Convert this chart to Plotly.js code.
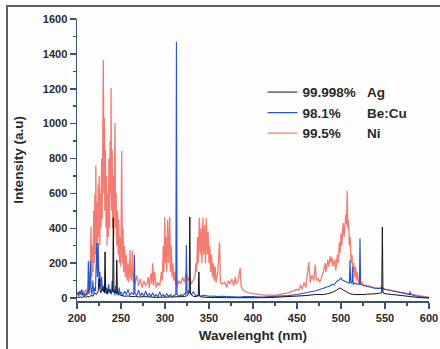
<!DOCTYPE html>
<html>
<head>
<meta charset="utf-8">
<script src="https://cdn.plot.ly/plotly-3.0.1.min.js"></script>
<style>
  html, body { margin: 0; padding: 0; width: 440px; height: 349px; overflow: hidden; background: #fdfdfd; }
  #chart { position: absolute; left: 0; top: 0; width: 440px; height: 349px; }
  #frame { position: absolute; left: 6px; top: 5px; width: 600px; height: 600px; border: 2px solid #5e5e5e; pointer-events: none; }
</style>
</head>
<body>
<div id="chart"></div>
<div id="frame"></div>
<script>
// ---- data ----
const seriesNames = ["99.998%\u00A0\u00A0\u00A0Ag", "98.1%\u00A0\u00A0\u00A0\u00A0\u00A0\u00A0\u00A0Be:Cu", "99.5%\u00A0\u00A0\u00A0\u00A0\u00A0\u00A0\u00A0Ni"];

const agX = [200, 202, 204, 206, 208, 210, 212, 214, 216, 218,
             220, 222, 224, 225, 226, 227, 229, 231.2, 231.9, 232.6,
             234, 236, 238, 240.6, 241.3, 242, 244.5, 245.2, 245.9, 248,
             250, 254, 258, 262, 266, 270, 275, 280, 285, 290,
             295, 300, 305, 310, 315, 320, 325, 327.5, 328.2, 328.9,
             332, 336, 337.8, 338.5, 339.2, 342, 346, 350, 360, 370,
             380, 390, 400, 410, 420, 430, 440, 450, 460, 470,
             480, 485, 490, 495, 499, 503, 507, 510, 515, 520,
             525, 530, 535, 540, 544, 546.3, 547, 547.7, 550, 555,
             560, 565, 570, 575, 580, 585, 590, 595, 600];
const agY = [5, 3, 6, 4, 8, 5, 10, 6, 15, 10,
             30, 20, 40, 110, 50, 30, 60, 30, 265, 40,
             25, 50, 30, 40, 460, 40, 30, 218, 35, 20,
             15, 10, 12, 8, 10, 6, 8, 5, 6, 4,
             5, 4, 5, 4, 6, 8, 12, 30, 465, 25,
             10, 8, 15, 150, 12, 6, 4, 3, 3, 2,
             2, 1, 1, 2, 3, 5, 8, 10, 14, 20,
             20, 25, 32, 45, 58, 45, 32, 25, 20, 18,
             20, 22, 22, 25, 28, 30, 407, 30, 25, 22,
             20, 15, 12, 8, 5, 3, 2, 1, 0];

const becuX = [200, 201, 202, 203, 204, 205.3, 206, 207, 208, 209,
               210, 211, 212.2, 212.9, 213.6, 214.5, 215.3, 216, 217, 218,
               219, 220, 221, 222.4, 223.2, 224, 225, 226, 227, 228,
               229, 230, 231, 232, 233, 234, 235, 236, 237, 238,
               239, 240, 241, 242, 243, 244, 245, 246, 247, 248,
               249, 250, 252, 254, 256, 258, 260, 262, 264.5, 265.2,
               266, 268, 270, 272, 274, 276, 278, 280, 282, 284,
               286, 288, 290, 292, 294, 296, 298, 300, 302, 304,
               306, 308, 310, 312.3, 313, 313.7, 316, 318, 320, 322,
               323.6, 324.3, 325, 327, 330, 332, 335, 340, 345, 350,
               355, 360, 365, 370, 375, 380, 385, 390, 395, 400,
               410, 420, 430, 440, 450, 455, 460, 465, 470, 475,
               480, 485, 488, 490, 492, 495, 497, 499, 500, 501,
               503, 505, 507, 509.5, 510.2, 511, 512.5, 513.2, 514, 516,
               518, 520, 520.9, 521.6, 522.3, 524, 527, 530, 535, 540,
               545, 550, 555, 560, 565, 570, 575, 577.8, 578.5, 579.2,
               585, 590, 595, 600];
const becuY = [20, 35, 15, 40, 20, 50, 15, 30, 10, 25,
               12, 30, 20, 212, 25, 60, 215, 40, 20, 100,
               30, 60, 40, 314, 120, 315, 80, 150, 50, 120,
               40, 70, 30, 90, 25, 60, 20, 80, 30, 50,
               20, 100, 30, 50, 15, 70, 20, 40, 15, 60,
               20, 35, 15, 40, 20, 50, 15, 30, 20, 246,
               25, 15, 45, 12, 30, 10, 40, 12, 25, 10,
               30, 10, 20, 8, 35, 10, 20, 8, 25, 10,
               20, 8, 15, 20, 1470, 20, 10, 20, 12, 25,
               20, 304, 25, 40, 20, 35, 15, 12, 15, 10,
               12, 8, 10, 8, 10, 8, 6, 8, 6, 8,
               6, 8, 10, 14, 20, 25, 28, 35, 40, 48,
               55, 62, 70, 80, 75, 95, 100, 110, 115, 105,
               100, 95, 90, 85, 218, 90, 85, 178, 80, 85,
               80, 82, 80, 343, 80, 75, 70, 65, 60, 55,
               55, 50, 45, 40, 35, 30, 22, 20, 38, 20,
               12, 8, 5, 2];

const niX = [200, 202, 204, 205.5, 207, 208.5, 210, 211.5, 213, 214,
             214.8, 215.9, 216.8, 217.5, 218.2, 219, 219.6, 220.3, 221, 221.4,
             222, 222.6, 223.2, 224, 224.6, 225.2, 226, 226.6, 227.2, 228,
             228.6, 229.3, 229.9, 230.5, 231.1, 231.6, 232.2, 233, 233.6, 234.2,
             235, 235.6, 236.2, 237, 237.6, 238.2, 238.7, 239.3, 240, 240.6,
             241.2, 241.8, 242.5, 243.2, 243.8, 244.5, 245.2, 246, 246.8, 247.5,
             248.2, 249, 249.8, 250.8, 251.6, 252.3, 253, 254, 255, 256,
             257, 258, 259, 260.3, 261, 262, 263, 264, 265, 266,
             268, 270, 272, 274, 276, 278, 280, 281, 282, 284,
             285, 286, 287, 288, 290, 292, 294, 296, 297, 298,
             298.8, 299.8, 300.5, 301.3, 302, 303, 304, 305.4, 306.2, 307,
             308, 309, 310, 311, 312, 313, 314, 316, 318, 320,
             322, 324, 326, 328, 330, 332, 334, 335, 336, 337,
             337.8, 339, 340, 341, 342, 343, 344, 345, 346, 347,
             348, 349, 350, 351, 352, 353, 354, 355, 356, 357,
             358, 360, 362, 363, 365, 368, 370, 372, 374, 376,
             378, 380, 381, 383, 385.4, 386.5, 388, 390, 395, 400,
             405, 410, 415, 420, 425, 430, 435, 440, 445, 450,
             452, 454, 456, 458, 460, 462, 463.5, 465, 467, 469,
             470.8, 472, 474, 476, 478, 480, 482, 483, 485, 486,
             488, 489, 490, 491, 493, 494, 496, 497, 498, 499,
             500, 501, 502, 502.6, 503.5, 504.5, 505.5, 506.3, 507, 507.8,
             508.6, 509.5, 510.5, 511.5, 512.5, 513.5, 514.5, 515.5, 516.5, 517.5,
             518.5, 520, 522, 524, 526, 528, 530, 532, 534, 536,
             538, 540, 542, 544, 546, 548, 550, 555, 560, 565,
             570, 575, 580, 585, 590, 595, 600];
const niY = [25, 10, 40, 15, 45, 20, 50, 25, 60, 150,
             70, 410, 120, 300, 150, 500, 200, 600, 250, 760,
             300, 550, 200, 650, 350, 700, 300, 600, 400, 800,
             450, 1030, 1365, 600, 1032, 500, 850, 400, 700, 300,
             600, 350, 800, 400, 900, 600, 1204, 500, 850, 400,
             700, 350, 650, 1003, 400, 600, 300, 500, 250, 450,
             200, 350, 180, 843, 200, 400, 150, 300, 120, 250,
             100, 200, 90, 275, 120, 100, 270, 90, 150, 80,
             130, 70, 110, 60, 100, 70, 90, 120, 60, 140,
             80, 200, 70, 150, 60, 90, 70, 150, 100, 300,
             150, 465, 200, 350, 150, 450, 200, 465, 150, 300,
             120, 200, 100, 150, 80, 120, 70, 100, 80, 120,
             90, 150, 100, 120, 80, 100, 120, 200, 150, 350,
             200, 460, 250, 400, 200, 460, 250, 420, 200, 460,
             250, 380, 200, 300, 150, 250, 120, 200, 100, 180,
             90, 150, 320, 90, 80, 90, 60, 100, 80, 110,
             70, 122, 80, 100, 172, 70, 50, 40, 30, 25,
             20, 18, 15, 18, 15, 20, 25, 30, 40, 50,
             45, 75, 50, 90, 60, 130, 208, 90, 132, 100,
             190, 100, 110, 90, 120, 150, 200, 150, 220, 180,
             240, 200, 230, 180, 220, 160, 250, 200, 320, 260,
             370, 300, 400, 430, 350, 400, 480, 420, 615, 400,
             450, 300, 350, 200, 250, 150, 200, 120, 180, 100,
             150, 90, 80, 90, 70, 75, 65, 70, 60, 65,
             55, 60, 55, 60, 65, 55, 50, 45, 40, 35,
             30, 25, 22, 15, 12, 8, 5];

const xTicks = [200, 250, 300, 350, 400, 450, 500, 550, 600];
const yTicks = [0, 200, 400, 600, 800, 1000, 1200, 1400, 1600];

// ---- styling ----
const axisColor = '#3d5560';
const textColor = '#2a2a2a';
const fontFam = '"Liberation Sans", Arial, Helvetica, sans-serif';

const traces = [
  { x: niX, y: niY, name: seriesNames[2], type: 'scatter', mode: 'lines',
    line: { color: 'rgb(236,45,28)', width: 1.3 }, opacity: 0.62, legendrank: 3 },
  { x: becuX, y: becuY, name: seriesNames[1], type: 'scatter', mode: 'lines',
    line: { color: '#2a55c8', width: 1.1 }, legendrank: 2 },
  { x: agX, y: agY, name: seriesNames[0], type: 'scatter', mode: 'lines',
    line: { color: '#151515', width: 1 }, legendrank: 1 }
];

const layout = {
  width: 440, height: 349,
  margin: { l: 77, r: 11, t: 19, b: 48 },
  paper_bgcolor: 'rgba(0,0,0,0)',
  plot_bgcolor: 'rgba(0,0,0,0)',
  font: { family: fontFam, size: 11, color: textColor, weight: 'bold' },
  showlegend: true,
  hovermode: false,
  legend: {
    x: 0.527, y: 0.795, xanchor: 'left', yanchor: 'top',
    bgcolor: 'rgba(0,0,0,0)', borderwidth: 0,
    font: { family: fontFam, size: 13.5, color: textColor, weight: 'bold' },
    itemwidth: 30
  },
  xaxis: {
    range: [200, 600], tickvals: xTicks, ticktext: xTicks.map(String),
    ticks: 'outside', ticklen: 6, tickwidth: 1.5, tickcolor: axisColor,
    showline: true, linecolor: axisColor, linewidth: 1.5,
    showgrid: false, zeroline: false,
    tickfont: { family: fontFam, size: 11, color: textColor, weight: 'bold' },
    minor: { dtick: 25, tick0: 200, ticks: 'outside', ticklen: 3, tickwidth: 1.5, tickcolor: axisColor, showgrid: false },
    title: { text: 'Wavelenght (nm)', font: { family: fontFam, size: 13.5, color: textColor, weight: 'bold' }, standoff: 8 }
  },
  yaxis: {
    range: [-17, 1600], tickvals: yTicks, ticktext: yTicks.map(String),
    ticks: 'outside', ticklen: 6, tickwidth: 1.5, tickcolor: axisColor,
    showline: true, linecolor: axisColor, linewidth: 1.5,
    showgrid: false, zeroline: false,
    tickfont: { family: fontFam, size: 11, color: textColor, weight: 'bold' },
    minor: { dtick: 100, tick0: 0, ticks: 'outside', ticklen: 3, tickwidth: 1.5, tickcolor: axisColor, showgrid: false },
    title: { text: 'Intensity (a.u)', font: { family: fontFam, size: 13.5, color: textColor, weight: 'bold' }, standoff: 16 }
  }
};

Plotly.newPlot('chart', traces, layout, { staticPlot: true, displayModeBar: false });
</script>
</body>
</html>
